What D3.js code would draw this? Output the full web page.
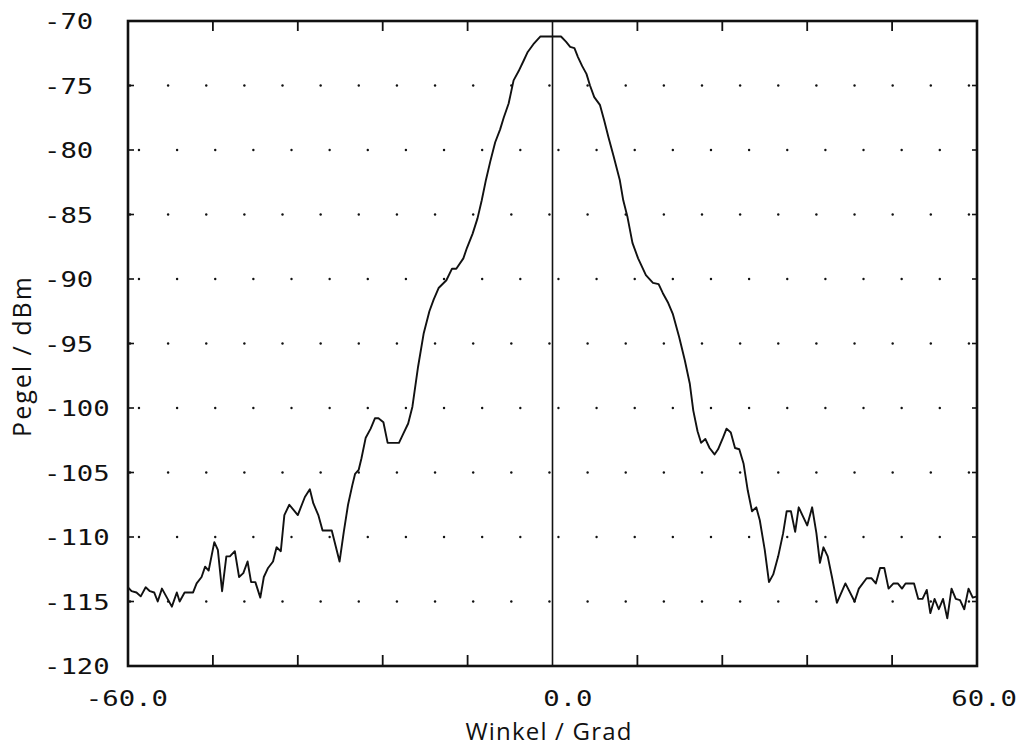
<!DOCTYPE html>
<html><head><meta charset="utf-8">
<script src="https://cdn.jsdelivr.net/npm/d3@7"></script>
<style>
html,body{margin:0;padding:0;background:#fff;}
svg{display:block;}
.mono{font-family:"DejaVu Sans Mono",monospace;font-size:21px;fill:#111;}
.title{font-family:"Open Sans","Noto Sans",sans-serif;font-size:24px;letter-spacing:1.2px;fill:#111;}
.ytitle{font-family:"Open Sans","Noto Sans",sans-serif;font-size:25px;letter-spacing:2px;fill:#111;}
</style></head>
<body><svg id="c" width="1020" height="747"></svg>
<script>
// ---- data ----
const angles = [-60.0,-59.5,-58.8,-58.2,-57.5,-56.9,-56.3,-55.8,-55.2,-54.5,-53.8,-53.1,-52.7,-52.0,-50.8,-50.3,-49.6,-49.1,-48.6,-47.8,-47.3,-46.7,-46.1,-45.6,-44.9,-44.3,-43.7,-43.1,-42.6,-42.0,-41.3,-40.8,-40.2,-39.5,-39.0,-38.4,-37.9,-37.2,-36.0,-35.0,-34.3,-33.8,-33.1,-32.5,-31.2,-30.1,-29.5,-28.9,-28.3,-27.9,-27.4,-27.0,-26.4,-25.7,-25.1,-24.6,-23.9,-23.3,-21.7,-21.1,-20.4,-19.8,-19.0,-18.2,-17.4,-16.8,-16.1,-15.0,-14.2,-13.6,-12.6,-12.1,-11.3,-10.6,-10.0,-9.4,-8.8,-8.1,-7.4,-6.9,-6.2,-5.5,-4.8,-4.1,-3.5,-2.7,-1.7,1.2,1.9,2.5,3.1,3.6,4.2,4.8,5.3,5.9,6.7,7.3,7.9,8.6,9.5,10.0,10.6,11.3,12.1,13.2,14.2,15.0,15.6,16.3,17.0,17.9,18.7,19.4,19.9,20.5,21.0,21.6,22.2,22.9,23.4,24.1,24.6,25.2,25.8,26.4,27.0,27.6,28.2,28.8,29.3,30.0,30.6,31.2,31.9,32.6,33.1,33.7,34.3,34.8,35.4,36.0,36.7,37.3,37.8,38.3,38.9,39.5,40.2,41.4,42.7,43.3,44.4,45.1,45.7,46.3,46.9,47.5,48.2,48.8,49.4,49.9,51.1,51.7,52.3,52.9,53.4,54.0,54.6,55.2,55.8,56.4,57.0,57.6,58.2,58.8,59.4,60.0];
const levels = [-113.9,-114.2,-114.3,-114.6,-113.9,-114.2,-114.3,-115.0,-114.0,-114.7,-115.4,-114.3,-115.0,-114.3,-114.3,-113.6,-113.1,-112.3,-112.6,-110.4,-111.0,-114.2,-111.5,-111.5,-111.1,-113.1,-112.8,-111.9,-113.5,-113.5,-114.7,-113.1,-112.4,-111.9,-110.8,-111.1,-108.3,-107.5,-108.3,-106.9,-106.3,-107.4,-108.3,-109.5,-109.5,-111.9,-109.6,-107.5,-106.0,-105.1,-104.8,-103.9,-102.3,-101.6,-100.8,-100.8,-101.1,-102.7,-102.7,-102.0,-101.2,-99.9,-96.8,-94.2,-92.5,-91.6,-90.7,-90.1,-89.2,-89.2,-88.4,-87.6,-86.5,-85.3,-83.9,-82.3,-80.9,-79.4,-78.4,-77.5,-76.4,-74.6,-73.9,-73.1,-72.4,-71.8,-71.2,-71.2,-71.6,-72.0,-72.1,-72.8,-73.5,-74.1,-75.0,-75.9,-76.5,-77.7,-79.0,-80.4,-82.3,-83.9,-85.2,-87.2,-88.4,-89.7,-90.3,-90.4,-91.1,-91.8,-92.7,-94.5,-96.3,-98.1,-100.2,-101.8,-102.7,-102.4,-103.1,-103.6,-103.2,-102.3,-101.6,-101.9,-103.1,-103.2,-104.3,-106.4,-108.0,-107.7,-108.7,-111.0,-113.5,-112.9,-111.5,-109.7,-108.0,-108.0,-109.6,-107.7,-108.4,-109.1,-107.7,-109.7,-112.0,-110.8,-111.5,-113.1,-115.1,-113.6,-115.0,-114.0,-113.2,-113.2,-113.6,-112.4,-112.4,-114.0,-113.6,-113.6,-114.0,-113.6,-113.6,-114.8,-114.8,-114.1,-115.9,-114.8,-115.6,-114.8,-116.3,-114.0,-114.8,-114.9,-115.6,-114.0,-114.7,-114.6];
const xTickValues = [-60,-48,-36,-24,-12,0,12,24,36,48,60];
const xLabelValues = [-60, 0, 60];
const xLabels = ["-60.0", "0.0", "60.0"];
const yTickValues = [-70,-75,-80,-85,-90,-95,-100,-105,-110,-115,-120];
const yLabels = ["-70","-75","-80","-85","-90","-95","-100","-105","-110","-115","-120"];
const xTitle = "Winkel / Grad";
const yTitle = "Pegel / dBm";

// ---- layout ----
const L = 128, R = 977, T = 21, B = 666;
const svg = d3.select("#c");
const x = d3.scaleLinear().domain([-60, 60]).range([L, R]);
const y = d3.scaleLinear().domain([-120, -70]).range([B, T]);
const ink = "#111";

// dotted grid (staggered rows, plotter style)
const dotRowsA = [-75,-85,-95,-105,-115];
const dotRowsB = [-80,-90,-100,-110];
const stepDeg = 5.39;
const dots = [];
dotRowsA.forEach(v => d3.range(0, 23).forEach(k => dots.push([-59.72 + k*stepDeg, v])));
dotRowsB.forEach(v => d3.range(0, 22).forEach(k => dots.push([-58.45 + k*stepDeg, v])));
svg.append("g").selectAll("circle").data(dots).join("circle")
  .attr("cx", d => x(d[0])).attr("cy", d => y(d[1])).attr("r", 1.2).attr("fill", ink);

// center line at 0
svg.append("line").attr("x1", x(0)).attr("x2", x(0)).attr("y1", T).attr("y2", B)
  .attr("stroke", ink).attr("stroke-width", 1.6);

// ticks top / bottom
const inner = xTickValues.filter(v => v !== -60 && v !== 60 && v !== 0);
svg.append("g").selectAll("line.t").data(inner).join("line")
  .attr("x1", d => x(d)).attr("x2", d => x(d)).attr("y1", T).attr("y2", T + 10)
  .attr("stroke", ink).attr("stroke-width", 1.8);
svg.append("g").selectAll("line.b").data(inner).join("line")
  .attr("x1", d => x(d)).attr("x2", d => x(d)).attr("y1", B).attr("y2", B - 11)
  .attr("stroke", ink).attr("stroke-width", 1.8);
// ticks left / right
const yInner = yTickValues.filter(v => v !== -70 && v !== -120);
svg.append("g").selectAll("line").data(yInner).join("line")
  .attr("x1", L).attr("x2", L + 6).attr("y1", d => y(d)).attr("y2", d => y(d))
  .attr("stroke", ink).attr("stroke-width", 1.6);
svg.append("g").selectAll("line").data(yInner).join("line")
  .attr("x1", R).attr("x2", R - 5).attr("y1", d => y(d)).attr("y2", d => y(d))
  .attr("stroke", ink).attr("stroke-width", 1.6);

// frame
svg.append("rect").attr("x", L).attr("y", T).attr("width", R - L).attr("height", B - T)
  .attr("fill", "none").attr("stroke", ink).attr("stroke-width", 2.6);

// curve
const line = d3.line().x((d, i) => x(angles[i])).y(d => y(d));
svg.append("path").datum(levels).attr("d", line)
  .attr("fill", "none").attr("stroke", ink).attr("stroke-width", 1.9)
  .attr("stroke-linejoin", "round");

// y tick labels (left aligned)
const sx = 1.3;
svg.append("g").selectAll("text").data(yTickValues).join("text")
  .attr("class", "mono")
  .attr("transform", d => `translate(44,${y(d) + 8}) scale(${sx},1)`)
  .text((d, i) => yLabels[i]);

// x tick labels (right aligned)
svg.append("g").selectAll("text").data(xLabelValues).join("text")
  .attr("class", "mono").attr("text-anchor", "end")
  .attr("transform", d => `translate(${x(d) + 40},706) scale(${sx},1)`)
  .text((d, i) => xLabels[i]);

// axis titles
svg.append("text").attr("class", "title").attr("text-anchor", "middle")
  .attr("x", 549).attr("y", 740).text(xTitle);
svg.append("text").attr("class", "ytitle").attr("text-anchor", "middle")
  .attr("transform", "translate(31,356) rotate(-90)").text(yTitle);
</script></body></html>
